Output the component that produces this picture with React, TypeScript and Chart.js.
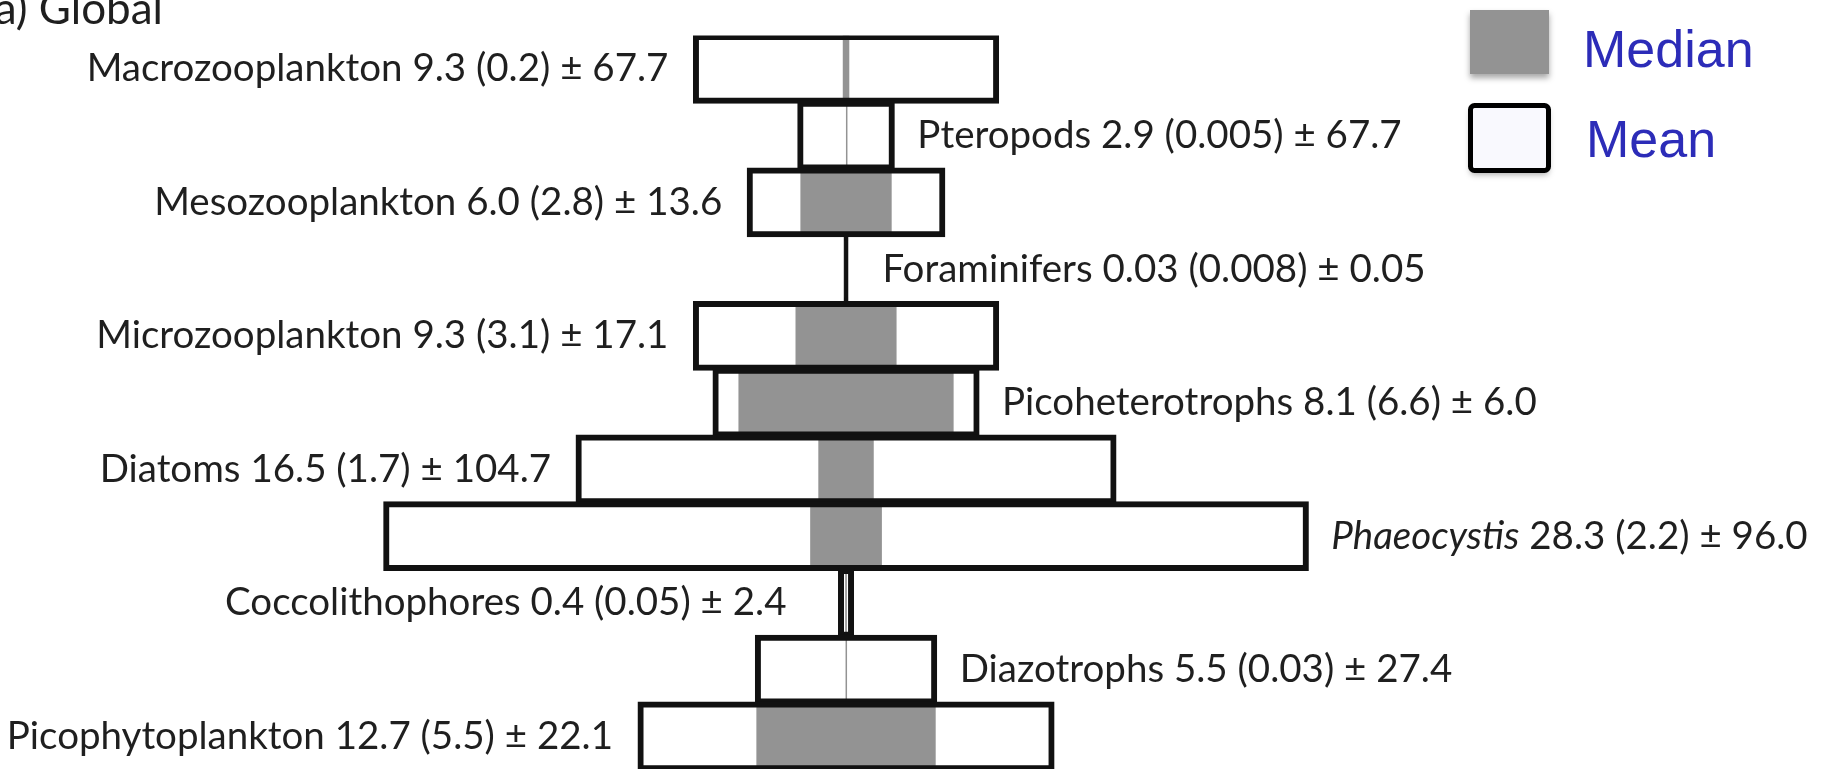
import React, { useEffect, useRef } from "react";
import { Chart, registerables } from "chart.js";

Chart.register(...registerables);

// ---------- data ----------
const GROUPS = [
  "Macrozooplankton",
  "Pteropods",
  "Mesozooplankton",
  "Foraminifers",
  "Microzooplankton",
  "Picoheterotrophs",
  "Diatoms",
  "Phaeocystis",
  "Coccolithophores",
  "Diazotrophs",
  "Picophytoplankton",
];
const MEAN = [9.3, 2.9, 6.0, 0.03, 9.3, 8.1, 16.5, 28.3, 0.4, 5.5, 12.7];
const MEDIAN = [0.2, 0.005, 2.8, 0.008, 3.1, 6.6, 1.7, 2.2, 0.05, 0.03, 5.5];
const SD = [67.7, 67.7, 13.6, 0.05, 17.1, 6.0, 104.7, 96.0, 2.4, 27.4, 22.1];
const ITALIC_NAMES = ["Phaeocystis"];
const LEGEND_LABELS = ["Median", "Mean"];
const TITLE = "a) Global";

// ---------- style ----------
const W = 1829;
const H = 772;
const X_MIN = -25.95;
const X_MAX = 30.15;
const GREY = "#939393";
const TEXT_FONT = "Lato, 'Open Sans', sans-serif";
const TEXT_SIZE = 38.5;
const TITLE_SIZE = 44;
const TEXT_COLOR = "#1f1f1f";
const LEFT_GAP = 26;
const RIGHT_GAP = 24;
const GAP_OVERRIDE: Record<string, number> = { Foraminifers: 36, Coccolithophores: 53 };

const fmt = (v: number) => {
  const s = String(v);
  return s.includes(".") ? s : s + ".0";
};

const labelPlugin = {
  id: "pyramidLabels",
  afterDatasetsDraw(chart: any) {
    const ctx = chart.ctx as CanvasRenderingContext2D;
    const xs = chart.scales.x;
    const ys = chart.scales.y;
    ctx.save();
    ctx.fillStyle = TEXT_COLOR;
    ctx.textBaseline = "middle";
    ctx.textAlign = "left";
    const normal = `${TEXT_SIZE}px ${TEXT_FONT}`;
    const italic = `italic ${TEXT_SIZE}px ${TEXT_FONT}`;
    GROUPS.forEach((g, i) => {
      const y = ys.getPixelForValue(i);
      const left = i % 2 === 0;
      const half = MEAN[i] / 2;
      const gap = GAP_OVERRIDE[g] ?? (left ? LEFT_GAP : RIGHT_GAP);
      const nameFont = ITALIC_NAMES.includes(g) ? italic : normal;
      const rest = ` ${fmt(MEAN[i])} (${fmt(MEDIAN[i])}) \u00b1 ${fmt(SD[i])}`;
      ctx.font = nameFont;
      const wName = ctx.measureText(g).width;
      ctx.font = normal;
      const wRest = ctx.measureText(rest).width;
      const total = wName + wRest;
      let x0: number;
      if (left) {
        x0 = xs.getPixelForValue(-half) - gap - total;
      } else {
        x0 = xs.getPixelForValue(half) + gap;
      }
      ctx.font = nameFont;
      ctx.fillText(g, x0, y);
      ctx.font = normal;
      ctx.fillText(rest, x0 + wName, y);
    });

    // title
    ctx.textBaseline = "alphabetic";
    ctx.textAlign = "right";
    ctx.font = `${TITLE_SIZE}px ${TEXT_FONT}`;
    ctx.fillText(TITLE, 163, 24);

    // legend
    ctx.shadowColor = "rgba(0,0,0,0.35)";
    ctx.shadowBlur = 6;
    ctx.shadowOffsetY = 4;
    ctx.fillStyle = GREY;
    ctx.fillRect(1470, 10, 79, 64);
    ctx.fillStyle = "#f9f9fe";
    ctx.beginPath();
    (ctx as any).roundRect(1470.5, 105.5, 78, 65, 4);
    ctx.fill();
    ctx.shadowColor = "rgba(0,0,0,0)";
    ctx.lineWidth = 5;
    ctx.strokeStyle = "#000";
    ctx.beginPath();
    (ctx as any).roundRect(1470.5, 105.5, 78, 65, 4);
    ctx.stroke();

    ctx.textAlign = "left";
    ctx.fillStyle = "#2c2cb8";
    ctx.font = "52px 'Liberation Sans', Arial, sans-serif";
    ctx.fillText(LEGEND_LABELS[0], 1583, 67);
    ctx.fillText(LEGEND_LABELS[1], 1586, 157);
    ctx.restore();
  },
};

export default function App() {
  const ref = useRef<HTMLCanvasElement | null>(null);
  useEffect(() => {
    if (!ref.current) return;
    const tiny = (c: any) => MEAN[c.dataIndex] < 0.1;
    const chart = new Chart(ref.current, {
      type: "bar",
      data: {
        labels: GROUPS,
        datasets: [
          {
            label: "Mean outline",
            data: MEAN.map((v) => [-v / 2, v / 2]) as any,
            backgroundColor: ((c: any) => (tiny(c) ? "#111" : "rgba(0,0,0,0)")) as any,
            borderColor: "#111",
            borderWidth: 3,
            borderSkipped: false,
            inflateAmount: ((c: any) => (tiny(c) ? 2 : 1.5)) as any,
            grouped: false,
            order: 0,
          } as any,
          {
            label: "Median",
            data: MEDIAN.map((v) => [-v / 2, v / 2]) as any,
            backgroundColor: GREY,
            borderWidth: 0,
            minBarLength: 1.5,
            inflateAmount: 0,
            grouped: false,
            order: 1,
          } as any,
          {
            label: "Mean",
            data: MEAN.map((v) => [-v / 2, v / 2]) as any,
            backgroundColor: "#ffffff",
            borderWidth: 0,
            inflateAmount: 0,
            grouped: false,
            order: 2,
          } as any,
        ],
      },
      options: {
        indexAxis: "y",
        responsive: false,
        animation: false,
        devicePixelRatio: 1,
        datasets: { bar: { barPercentage: 1, categoryPercentage: 1 } } as any,
        layout: { padding: { top: 35.5, bottom: H - 769.75, left: 0, right: 0 } },
        scales: {
          x: { type: "linear", min: X_MIN, max: X_MAX, display: false },
          y: { display: false },
        },
        plugins: { legend: { display: false }, tooltip: { enabled: false } },
      },
      plugins: [labelPlugin],
    });
    return () => chart.destroy();
  }, []);
  return (
    <div
      style={{
        position: "fixed",
        left: 0,
        top: 0,
        width: W,
        height: 769,
        overflow: "hidden",
        background: "#fff",
      }}
    >
      <canvas ref={ref} width={W} height={H} style={{ width: W, height: H, display: "block" }} />
    </div>
  );
}
